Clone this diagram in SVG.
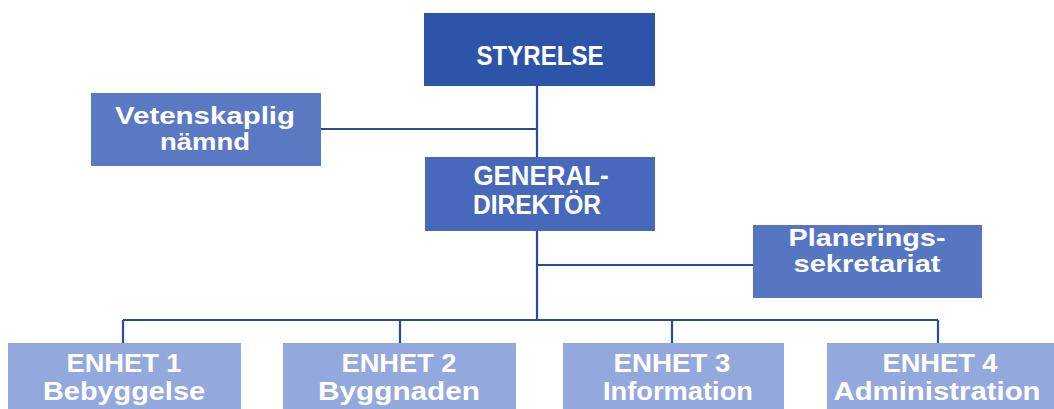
<svg xmlns="http://www.w3.org/2000/svg" width="1054" height="409" viewBox="0 0 1054 409">
<style>
.t{font-family:"Liberation Sans",Arial,sans-serif;font-weight:bold;fill:#ffffff;text-anchor:middle}
.big{font-size:27px}
.mid{font-size:24px}
.low{font-size:26px}
.c{stroke:#2a4a9c;stroke-width:2.2;fill:none}
</style>
<rect width="1054" height="409" fill="#ffffff"/>
<g id="connectors">
<line class="c" x1="537" y1="86" x2="537" y2="157"/>
<line class="c" x1="321" y1="129" x2="537" y2="129"/>
<line class="c" x1="537" y1="231" x2="537" y2="320"/>
<line class="c" x1="537" y1="265" x2="753" y2="265"/>
<line class="c" x1="123" y1="320" x2="938" y2="320"/>
<line class="c" x1="123" y1="320" x2="123" y2="343"/>
<line class="c" x1="400" y1="320" x2="400" y2="343"/>
<line class="c" x1="672" y1="320" x2="672" y2="343"/>
<line class="c" x1="938" y1="320" x2="938" y2="343"/>
</g>
<g id="styrelse">
<rect x="424" y="13" width="231" height="73" fill="#2d54a8"/>
<text class="t big" x="540" y="65" textLength="127" lengthAdjust="spacingAndGlyphs">STYRELSE</text>
</g>
<g id="vetenskaplig">
<rect x="91" y="93" width="230" height="73" fill="#5b78c2"/>
<text class="t mid" x="205" y="124" textLength="180" lengthAdjust="spacingAndGlyphs">Vetenskaplig</text>
<text class="t mid" x="205" y="150" textLength="90" lengthAdjust="spacingAndGlyphs">nämnd</text>
</g>
<g id="generaldirektor">
<rect x="425" y="157" width="230" height="74" fill="#4768bb"/>
<text class="t big" x="541" y="185" textLength="135" lengthAdjust="spacingAndGlyphs">GENERAL-</text>
<text class="t big" x="537" y="214" textLength="128" lengthAdjust="spacingAndGlyphs">DIREKTÖR</text>
</g>
<g id="planering">
<rect x="753" y="225" width="229" height="73" fill="#5776c2"/>
<text class="t mid" x="867" y="246" textLength="157" lengthAdjust="spacingAndGlyphs">Planerings-</text>
<text class="t mid" x="867" y="272" textLength="147" lengthAdjust="spacingAndGlyphs">sekretariat</text>
</g>
<g id="enhet1">
<rect x="8" y="343" width="233" height="70" fill="#93a8dd"/>
<text class="t low" x="124" y="372" textLength="115" lengthAdjust="spacingAndGlyphs">ENHET 1</text>
<text class="t low" x="124" y="400" textLength="162" lengthAdjust="spacingAndGlyphs">Bebyggelse</text>
</g>
<g id="enhet2">
<rect x="283" y="343" width="233" height="70" fill="#93a8dd"/>
<text class="t low" x="399" y="372" textLength="115" lengthAdjust="spacingAndGlyphs">ENHET 2</text>
<text class="t low" x="399" y="400" textLength="162" lengthAdjust="spacingAndGlyphs">Byggnaden</text>
</g>
<g id="enhet3">
<rect x="563" y="343" width="221" height="70" fill="#93a8dd"/>
<text class="t low" x="672" y="372" textLength="117" lengthAdjust="spacingAndGlyphs">ENHET 3</text>
<text class="t low" x="678" y="400" textLength="150" lengthAdjust="spacingAndGlyphs">Information</text>
</g>
<g id="enhet4">
<rect x="827" y="343" width="240" height="70" fill="#93a8dd"/>
<text class="t low" x="940" y="372" textLength="115" lengthAdjust="spacingAndGlyphs">ENHET 4</text>
<text class="t low" x="937" y="400" textLength="207" lengthAdjust="spacingAndGlyphs">Administration</text>
</g>
</svg>
